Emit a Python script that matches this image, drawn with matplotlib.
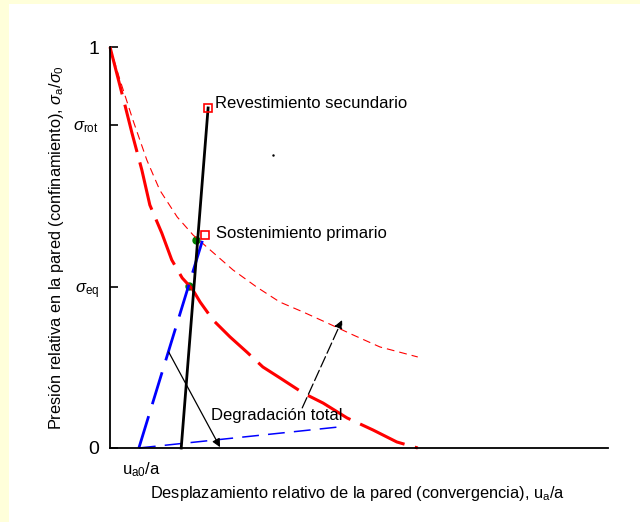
"""
Curva característica: presión relativa vs. convergencia de la pared.
"""
import matplotlib
matplotlib.use('Agg')
import matplotlib.pyplot as plt
from matplotlib.patches import Rectangle

plt.rcParams['font.family'] = ['Liberation Sans', 'DejaVu Sans']
plt.rcParams['mathtext.fontset'] = 'custom'
plt.rcParams['mathtext.rm'] = 'Liberation Sans'
plt.rcParams['mathtext.it'] = 'Liberation Sans:italic'

# curvas (u_a/a normalizado, sigma_a/sigma_0)
terreno_x = [0.0, 0.030, 0.044, 0.064, 0.080, 0.104, 0.124, 0.145, 0.165, 0.181,
             0.207, 0.241, 0.275, 0.307, 0.341, 0.388, 0.428, 0.476, 0.528,
             0.576, 0.618]
terreno_y = [1.0, 0.855, 0.786, 0.693, 0.606, 0.536, 0.469, 0.424, 0.397, 0.364,
             0.319, 0.277, 0.239, 0.202, 0.175, 0.137, 0.112, 0.075, 0.045,
             0.015, 0.0]

degradado_x = [0.0, 0.020, 0.046, 0.074, 0.100, 0.135, 0.167, 0.201, 0.247, 0.295,
               0.341, 0.388, 0.436, 0.488, 0.542, 0.618]
degradado_y = [1.0, 0.918, 0.818, 0.718, 0.643, 0.576, 0.531, 0.494, 0.444, 0.401,
               0.364, 0.339, 0.312, 0.282, 0.252, 0.227]

revest_x = [0.143, 0.197]
revest_y = [0.0, 0.848]

sost_x = [0.058, 0.189]
sost_y = [0.0, 0.531]

sost_deg_x = [0.058, 0.456]
sost_deg_y = [0.0, 0.052]

equilibrio_x = [0.173, 0.159]
equilibrio_y = [0.519, 0.404]

ytick_pos = [0.0, 0.401, 0.805, 1.0]
ytick_lab = ['0', r'$\sigma_{\mathrm{eq}}$', r'$\sigma_{\mathrm{rot}}$', '1']

fig = plt.figure(figsize=(6.4, 5.22), dpi=100, facecolor='#FFFFDA')
fig.add_artist(Rectangle((9 / 640, 0), 631 / 640, 518 / 522,
                         transform=fig.transFigure, facecolor='white',
                         edgecolor='none', zorder=0))

ax = fig.add_axes([110 / 640, 74 / 522, 498 / 640, 401 / 522])
ax.set_facecolor('none')
ax.set_xlim(0, 1)
ax.set_ylim(0, 1)

for s in ['top', 'right']:
    ax.spines[s].set_visible(False)
ax.spines['left'].set_linewidth(1.3)
ax.spines['bottom'].set_linewidth(1.3)

ax.set_xticks([])
ax.set_yticks(ytick_pos)
ax.set_yticklabels(ytick_lab)
ax.tick_params(axis='y', direction='in', length=6, width=1.2, pad=8, labelsize=12)
for lab in ax.get_yticklabels():
    if lab.get_text() in ('0', '1'):
        lab.set_fontsize(14)

# curvas del terreno
ax.plot(terreno_x, terreno_y, color='#FF0000', lw=2.2, dashes=(16, 3.5), clip_on=False)
ax.plot(degradado_x, degradado_y, color='#FF0000', lw=0.8, dashes=(7, 4.5), clip_on=False)

# sostenimiento
ax.plot(sost_x, sost_y, color='#0000FF', lw=2.0, dashes=(12, 4.5), clip_on=False)
ax.plot(sost_deg_x, sost_deg_y, color='#0000FF', lw=1.1, dashes=(11, 6), clip_on=False)

# revestimiento secundario
ax.plot(revest_x, revest_y, color='black', lw=2.0, clip_on=False)

ax.plot([revest_x[1], sost_x[1] + 0.002], [revest_y[1], sost_y[1]], 's', ms=6,
        mfc='none', mec='#FF0000', mew=1.2, clip_on=False)
ax.plot(equilibrio_x, equilibrio_y, 'o', ms=5, color='#008000', zorder=1)

ax.text(0.211, 0.858, 'Revestimiento secundario', fontsize=12, va='center')
ax.text(0.213, 0.536, 'Sostenimiento primario', fontsize=12, va='center')
ax.text(0.203, 0.082, 'Degradación total', fontsize=12, va='center')
ax.plot([0.327], [0.731], '.', ms=1.5, color='black')

# flechas
ax.annotate('', xy=(0.221, 0.002), xytext=(0.118, 0.239),
            arrowprops=dict(arrowstyle='-|>', color='black', lw=0.9,
                            mutation_scale=12, shrinkA=0, shrinkB=0))
ax.annotate('', xy=(0.466, 0.319), xytext=(0.386, 0.100),
            arrowprops=dict(arrowstyle='-|>', color='black', lw=0.9,
                            linestyle=(0, (9, 3)), mutation_scale=12,
                            shrinkA=0, shrinkB=0))

ax.text(0.024, -0.055, r'u$_{\mathrm{a0}}$/a', fontsize=12, va='center')
ax.text(0.498, -0.113, 'Desplazamiento relativo de la pared (convergencia), u$_{\mathrm{a}}$/a',
        fontsize=11.8, ha='center', va='center')
fig.text(57 / 640, 1 - 248 / 522,
         r'Presión relativa en la pared (confinamiento), $\sigma_{\mathrm{a}}$/$\sigma_{\mathrm{0}}$',
         rotation=90, fontsize=11.8, ha='center', va='center')

fig.savefig('out.png', dpi=100, facecolor=fig.get_facecolor())
